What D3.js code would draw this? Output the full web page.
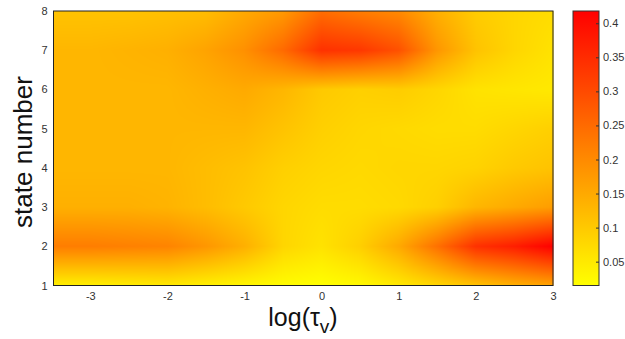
<!DOCTYPE html>
<html><head><meta charset="utf-8">
<script src="https://cdn.jsdelivr.net/npm/d3@7"></script>
<style>html,body{margin:0;padding:0;background:#fff;}svg{display:block;font-family:"Liberation Sans",Arial,sans-serif;}</style>
</head><body>
<svg id="chart" width="625" height="339"></svg>
<script>
// grid nodes: log(tau_v) and state number
const logTau = [-3.477, -3, -2.5, -2, -1.5, -1, -0.5, 0, 0.5, 1, 1.5, 2, 2.5, 3];
const states = [1, 2, 3, 4, 5, 6, 7, 8];
// values per state (row), one per logTau node
const state1 = [0.04, 0.04, 0.045, 0.05, 0.04, 0.03, 0.02, 0.015, 0.025, 0.05, 0.08, 0.11, 0.14, 0.16];
const state2 = [0.22, 0.22, 0.215, 0.21, 0.18, 0.14, 0.08, 0.06, 0.09, 0.15, 0.24, 0.34, 0.37, 0.418];
const state3 = [0.14, 0.14, 0.14, 0.135, 0.12, 0.10, 0.08, 0.07, 0.07, 0.075, 0.09, 0.13, 0.15, 0.17];
const state4 = [0.13, 0.13, 0.13, 0.13, 0.12, 0.11, 0.09, 0.08, 0.075, 0.08, 0.08, 0.085, 0.10, 0.11];
const state5 = [0.13, 0.13, 0.13, 0.13, 0.13, 0.13, 0.11, 0.09, 0.08, 0.075, 0.07, 0.07, 0.08, 0.09];
const state6 = [0.13, 0.13, 0.13, 0.13, 0.14, 0.15, 0.13, 0.10, 0.09, 0.095, 0.08, 0.06, 0.055, 0.05];
const state7 = [0.13, 0.13, 0.135, 0.14, 0.16, 0.19, 0.25, 0.34, 0.33, 0.29, 0.18, 0.11, 0.08, 0.06];
const state8 = [0.11, 0.11, 0.11, 0.115, 0.12, 0.15, 0.175, 0.245, 0.22, 0.2, 0.14, 0.096, 0.08, 0.07];
const values = [state1, state2, state3, state4, state5, state6, state7, state8];

const xTicks = [-3, -2, -1, 0, 1, 2, 3];
const yTicks = [1, 2, 3, 4, 5, 6, 7, 8];
const cbTicks = [0.05, 0.1, 0.15, 0.2, 0.25, 0.3, 0.35, 0.4];

const svg = d3.select("#chart");
const P = {left: 53.5, right: 553, top: 11, bottom: 285.5};
const x = d3.scaleLinear().domain([logTau[0], logTau[logTau.length - 1]]).range([P.left, P.right]);
const y = d3.scaleLinear().domain([1, 8]).range([P.bottom, P.top]);

const all = values.flat();
const vmin = d3.min(all), vmax = d3.max(all);
const color = d3.scaleLinear().domain([vmin, vmax]).range(["#ffff00", "#ff0000"]).clamp(true);

function interp(xv, yv) {
  let i = Math.max(0, Math.min(logTau.length - 2, d3.bisectRight(logTau, xv) - 1));
  let j = Math.max(0, Math.min(states.length - 2, d3.bisectRight(states, yv) - 1));
  const tx = Math.max(0, Math.min(1, (xv - logTau[i]) / (logTau[i + 1] - logTau[i])));
  const ty = Math.max(0, Math.min(1, (yv - states[j]) / (states[j + 1] - states[j])));
  const a = values[j][i], b = values[j][i + 1], c = values[j + 1][i], d = values[j + 1][i + 1];
  return (a * (1 - tx) + b * tx) * (1 - ty) + (c * (1 - tx) + d * tx) * ty;
}

// heatmap raster
const W = Math.round(P.right - P.left), H = Math.round(P.bottom - P.top);
const cv = document.createElement("canvas");
cv.width = W; cv.height = H;
const ctx = cv.getContext("2d");
const img = ctx.createImageData(W, H);
for (let py = 0; py < H; py++) {
  const yv = y.invert(P.top + py + 0.5);
  for (let px = 0; px < W; px++) {
    const xv = x.invert(P.left + px + 0.5);
    const c = d3.rgb(color(interp(xv, yv)));
    const k = (py * W + px) * 4;
    img.data[k] = c.r; img.data[k + 1] = c.g; img.data[k + 2] = c.b; img.data[k + 3] = 255;
  }
}
ctx.putImageData(img, 0, 0);
svg.append("image").attr("x", P.left).attr("y", P.top).attr("width", W).attr("height", H)
  .attr("preserveAspectRatio", "none").attr("href", cv.toDataURL());

svg.append("rect").attr("x", P.left).attr("y", P.top).attr("width", P.right - P.left).attr("height", P.bottom - P.top)
  .attr("fill", "none").attr("stroke", "#222").attr("stroke-width", 1);

const fmt = d => String(d);
// axes
const xAxis = svg.append("g").attr("transform", `translate(0,${P.bottom})`)
  .call(d3.axisBottom(x).tickValues(xTicks).tickFormat(fmt).tickSize(0).tickPadding(7));
const yAxis = svg.append("g").attr("transform", `translate(${P.left},0)`)
  .call(d3.axisLeft(y).tickValues(yTicks).tickFormat(fmt).tickSize(0).tickPadding(6));
[xAxis, yAxis].forEach(g => {
  g.select(".domain").remove();
  g.selectAll("text").attr("fill", "#333").style("font-size", "11px").style("font-family", "'Liberation Sans',Arial,sans-serif");
});

svg.append("text").attr("transform", `translate(32,152) rotate(-90)`).attr("text-anchor", "middle")
  .style("font-size", "26px").attr("fill", "#111").text("state number");
const xl = svg.append("text").attr("x", 303).attr("y", 326).attr("text-anchor", "middle")
  .style("font-size", "25px").attr("fill", "#111");
xl.append("tspan").text("log(τ");
xl.append("tspan").attr("dy", 7).style("font-size", "19px").text("v");
xl.append("tspan").attr("dy", -7).text(")");

// colorbar
const CB = {left: 573, right: 599};
const cy = d3.scaleLinear().domain([vmin, vmax]).range([P.bottom, P.top]);
const defs = svg.append("defs");
const grad = defs.append("linearGradient").attr("id", "cbg").attr("x1", 0).attr("y1", 1).attr("x2", 0).attr("y2", 0);
d3.range(0, 1.0001, 0.1).forEach(t => {
  grad.append("stop").attr("offset", t).attr("stop-color", color(vmin + t * (vmax - vmin)));
});
svg.append("rect").attr("x", CB.left).attr("y", P.top).attr("width", CB.right - CB.left).attr("height", P.bottom - P.top)
  .attr("fill", "url(#cbg)").attr("stroke", "#333").attr("stroke-width", 1);
const cAxis = svg.append("g").attr("transform", `translate(${CB.right},0)`)
  .call(d3.axisRight(cy).tickValues(cbTicks).tickFormat(fmt).tickSize(-3).tickPadding(4));
cAxis.select(".domain").remove();
cAxis.selectAll("line").attr("stroke", "#333");
cAxis.selectAll("text").attr("fill", "#333").style("font-size", "11px").style("font-family", "'Liberation Sans',Arial,sans-serif");
</script>
</body></html>
